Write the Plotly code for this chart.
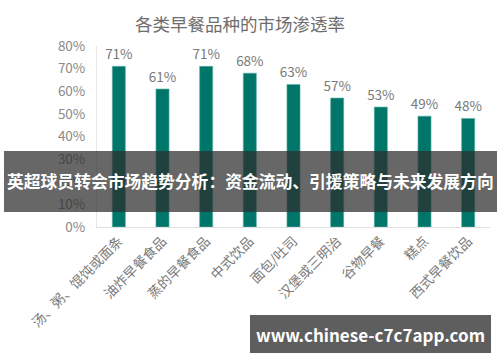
import plotly.graph_objects as go

categories = ["汤、粥、馄饨或面条", "油炸早餐食品", "蒸的早餐食品", "中式饮品", "面包/吐司",
              "汉堡或三明治", "谷物早餐", "糕点", "西式早餐饮品"]
values = [71, 61, 71, 68, 63, 57, 53, 49, 48]
title_text = "各类早餐品种的市场渗透率"
banner_text = "英超球员转会市场趋势分析：资金流动、引援策略与未来发展方向"
watermark_text = "www.chinese-c7c7app.com"

FONT = "Noto Sans CJK SC"
W, H = 500, 362
L, R, T, B = 97, 10, 46, 135
pw, ph = W - L - R, H - T - B

def px_x(x):
    return (x - L) / pw

def px_y(y):
    return (H - B - y) / ph

fig = go.Figure()
fig.add_trace(go.Bar(
    x=categories, y=values,
    marker=dict(color="#00766a", line=dict(color="#5fb3a8", width=0.6)),
    text=[f"{v}%" for v in values], textposition="outside",
    constraintext="none",
    textfont=dict(family=FONT, size=13.5, color="#7a7a7a"),
    cliponaxis=False,
))

fig.update_layout(
    width=W, height=H,
    margin=dict(l=L, r=R, t=T, b=B),
    paper_bgcolor="white", plot_bgcolor="white",
    bargap=0.7,
    showlegend=False,
    font=dict(family=FONT, color="#7a7a7a"),
    title=dict(text=title_text, x=0.48, xanchor="center", y=1 - 25 / H, yanchor="middle",
               font=dict(family=FONT, size=17.5, color="#6e6e6e")),
    xaxis=dict(tickangle=-45, tickfont=dict(family=FONT, size=13.5, color="#7a7a7a"),
               showline=True, linecolor="#e0e0e0", linewidth=1, ticks="", showgrid=False),
    yaxis=dict(range=[0, 80], dtick=10, ticksuffix="%", showgrid=False,
               tickfont=dict(family=FONT, size=13.5, color="#8a8a8a"),
               showline=True, linecolor="#e6e6e6", linewidth=1, ticks="outside",
               ticklen=8, tickcolor="rgba(0,0,0,0)", zeroline=False),
)

# banner overlay
fig.add_shape(type="rect", xref="paper", yref="paper",
              x0=px_x(4), x1=px_x(497), y0=px_y(212), y1=px_y(151),
              fillcolor="rgba(45,45,45,0.72)", line=dict(width=0), layer="above")
fig.add_annotation(xref="paper", yref="paper", x=px_x(250), y=px_y(181.5),
                   text=banner_text, showarrow=False, xanchor="center", yanchor="middle",
                   font=dict(family=FONT, size=16.8, color="white", weight="bold"))

# watermark box
fig.add_shape(type="rect", xref="paper", yref="paper",
              x0=px_x(250), x1=px_x(491), y0=px_y(353), y1=px_y(315),
              fillcolor="#5e5e5e", line=dict(width=0), layer="above")
fig.add_annotation(xref="paper", yref="paper", x=px_x(370), y=px_y(334),
                   text=watermark_text, showarrow=False, xanchor="center", yanchor="middle",
                   font=dict(family=FONT, size=17, color="white", weight="bold"))

fig.write_html("out.html")
